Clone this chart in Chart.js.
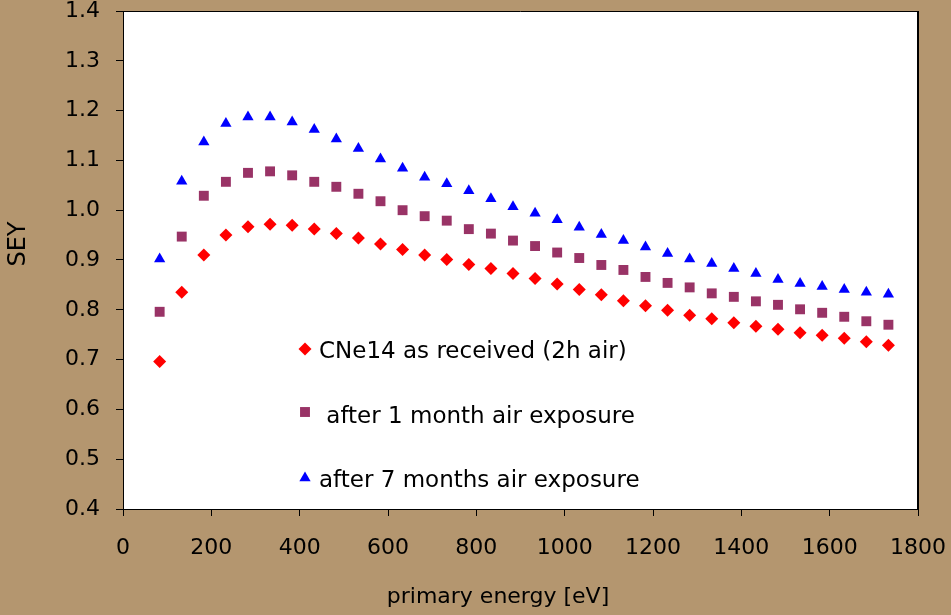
<!DOCTYPE html>
<html>
<head>
<meta charset="utf-8">
<script src="https://cdn.jsdelivr.net/npm/chart.js@4/dist/chart.umd.min.js"></script>
<style>
  html, body { margin: 0; padding: 0; background: #b4966f; }
  #wrap { position: relative; width: 951px; height: 615px; }
  canvas { display: block; }
</style>
</head>
<body>
<div id="wrap"><canvas id="c" width="951" height="615"></canvas></div>
<script>
// Primary electron energy (eV) for every measurement point
const energies = [83, 133, 183, 233, 283, 333, 383, 433, 483, 533, 583, 633, 683, 733, 783, 833, 883,
                  933, 983, 1033, 1083, 1133, 1183, 1233, 1283, 1333, 1383, 1433, 1483, 1533, 1583, 1633, 1683, 1733];

// Secondary electron yield, sample as received (2h air)
const asReceived = [0.696, 0.835, 0.910, 0.950, 0.967, 0.972, 0.970, 0.962, 0.953, 0.944, 0.932, 0.921,
                    0.910, 0.901, 0.891, 0.883, 0.873, 0.863, 0.852, 0.841, 0.830, 0.818, 0.808, 0.799,
                    0.789, 0.782, 0.774, 0.767, 0.761, 0.754, 0.749, 0.743, 0.736, 0.729];

// Secondary electron yield after 1 month in air
const oneMonth = [0.796, 0.947, 1.029, 1.057, 1.075, 1.078, 1.070, 1.057, 1.047, 1.033, 1.018, 1.000,
                  0.988, 0.979, 0.962, 0.953, 0.939, 0.928, 0.915, 0.904, 0.890, 0.880, 0.866, 0.854,
                  0.845, 0.833, 0.826, 0.817, 0.810, 0.801, 0.794, 0.786, 0.777, 0.770];

// Secondary electron yield after 7 months in air
const sevenMonths = [0.902, 1.058, 1.137, 1.174, 1.187, 1.187, 1.177, 1.162, 1.143, 1.124, 1.103, 1.084,
                     1.066, 1.053, 1.039, 1.023, 1.007, 0.994, 0.981, 0.966, 0.951, 0.939, 0.926, 0.913,
                     0.902, 0.893, 0.883, 0.873, 0.861, 0.853, 0.847, 0.841, 0.835, 0.831];

const seriesNames = ['CNe14 as received (2h air)', ' after 1 month air exposure', 'after 7 months air exposure'];
const xTickValues = [0, 200, 400, 600, 800, 1000, 1200, 1400, 1600, 1800];
const yTickValues = [0.4, 0.5, 0.6, 0.7, 0.8, 0.9, 1.0, 1.1, 1.2, 1.3, 1.4];
const xTitle = 'primary energy [eV]';
const yTitle = 'SEY';

const FONT = 'DejaVu Sans';
const toPoints = ys => energies.map((e, i) => ({ x: e, y: ys[i] }));

// marker shapes shared by the plot and the legend
function drawMarker(ctx, style, x, y, r, color) {
  ctx.save();
  ctx.fillStyle = color;
  ctx.beginPath();
  if (style === 'rectRot') {
    ctx.moveTo(x, y - r); ctx.lineTo(x + r, y); ctx.lineTo(x, y + r); ctx.lineTo(x - r, y);
  } else if (style === 'rect') {
    const h = r * Math.SQRT1_2;
    ctx.rect(x - h, y - h, 2 * h, 2 * h);
  } else {
    ctx.moveTo(x, y - r);
    ctx.lineTo(x + r * 0.866, y + r * 0.5);
    ctx.lineTo(x - r * 0.866, y + r * 0.5);
  }
  ctx.closePath();
  ctx.fill();
  ctx.restore();
}

const frame = {
  id: 'frame',
  beforeDraw(chart) {
    const { ctx, chartArea: a } = chart;
    ctx.save();
    ctx.fillStyle = '#ffffff';
    ctx.fillRect(a.left, a.top, a.right - a.left, a.bottom - a.top);
    ctx.restore();
  },
  afterDraw(chart) {
    const { ctx, chartArea: a } = chart;
    ctx.save();
    ctx.strokeStyle = '#000';
    ctx.lineWidth = 1;
    ctx.beginPath();
    ctx.moveTo(a.left + 0.5, a.bottom + 0.5);
    ctx.lineTo(a.left + 0.5, a.top + 0.5);
    ctx.lineTo(a.right, a.top + 0.5);
    ctx.stroke();
    ctx.lineWidth = 2;
    ctx.beginPath();
    ctx.moveTo(a.right, a.top);
    ctx.lineTo(a.right, a.bottom + 1);
    ctx.stroke();

    // in-plot legend
    const items = [
      { style: 'rectRot', color: '#ff0000', r: 6.5, mx: 305, my: 349, tx: 319, ty: 358 },
      { style: 'rect', color: '#993366', r: 7, mx: 305, my: 412, tx: 319, ty: 423 },
      { style: 'triangle', color: '#0000ff', r: 6.5, mx: 305, my: 478, tx: 319, ty: 487 }
    ];
    ctx.fillStyle = '#000';
    ctx.font = '23px "' + FONT + '"';
    ctx.textBaseline = 'alphabetic';
    ctx.textAlign = 'left';
    items.forEach((it, i) => {
      drawMarker(ctx, it.style, it.mx, it.my, it.r, it.color);
      ctx.fillStyle = '#000';
      ctx.fillText(seriesNames[i], it.tx, it.ty);
    });

    // axis titles
    ctx.font = '22px "' + FONT + '"';
    ctx.textAlign = 'center';
    ctx.fillText(xTitle, 498, 603);
    ctx.save();
    ctx.translate(25, 244);
    ctx.rotate(-Math.PI / 2);
    ctx.font = '24px "' + FONT + '"';
    ctx.fillText(yTitle, 0, 0);
    ctx.restore();
    ctx.restore();
  }
};

const tickFont = { family: FONT, size: 22 };
// keep the plot box fixed: labels may overhang into the margins
const noOverhang = s => { s.paddingTop = 0; s.paddingBottom = 0; s.paddingLeft = 0; s.paddingRight = 0; };

new Chart(document.getElementById('c'), {
  type: 'scatter',
  data: {
    datasets: [
      { label: seriesNames[0], data: toPoints(asReceived), pointStyle: 'rectRot', radius: 6.5,
        backgroundColor: '#ff0000', borderWidth: 0, showLine: false },
      { label: seriesNames[1], data: toPoints(oneMonth), pointStyle: 'rect', radius: 7,
        backgroundColor: '#993366', borderWidth: 0, showLine: false },
      { label: seriesNames[2], data: toPoints(sevenMonths), pointStyle: 'triangle', radius: 6.5,
        backgroundColor: '#0000ff', borderWidth: 0, showLine: false }
    ]
  },
  options: {
    responsive: false,
    animation: false,
    devicePixelRatio: 1,
    layout: { padding: { top: 11, right: 33, left: 0, bottom: 0 } },
    plugins: { legend: { display: false }, tooltip: { enabled: false } },
    scales: {
      x: {
        type: 'linear', min: 0, max: 1800,
        afterBuildTicks: s => { s.ticks = xTickValues.map(v => ({ value: v })); },
        ticks: { color: '#000', font: tickFont, padding: 19, maxRotation: 0, autoSkip: false,
                 callback: v => String(v) },
        grid: { drawOnChartArea: false, drawTicks: true, tickLength: 7, tickColor: '#000', tickWidth: 1 },
        border: { display: true, color: '#000', width: 1 },
        afterFit: s => { s.height = 106; noOverhang(s); }
      },
      y: {
        type: 'linear', min: 0.4, max: 1.4,
        afterBuildTicks: s => { s.ticks = yTickValues.map(v => ({ value: v })); },
        ticks: { color: '#000', font: tickFont, padding: 16, autoSkip: false,
                 callback: v => Number(v).toFixed(1) },
        grid: { drawOnChartArea: false, drawTicks: true, tickLength: 7, tickColor: '#000', tickWidth: 1 },
        border: { display: true, color: '#000', width: 1 },
        afterFit: s => { s.width = 123; noOverhang(s); }
      }
    }
  },
  plugins: [frame]
});
</script>
</body>
</html>
